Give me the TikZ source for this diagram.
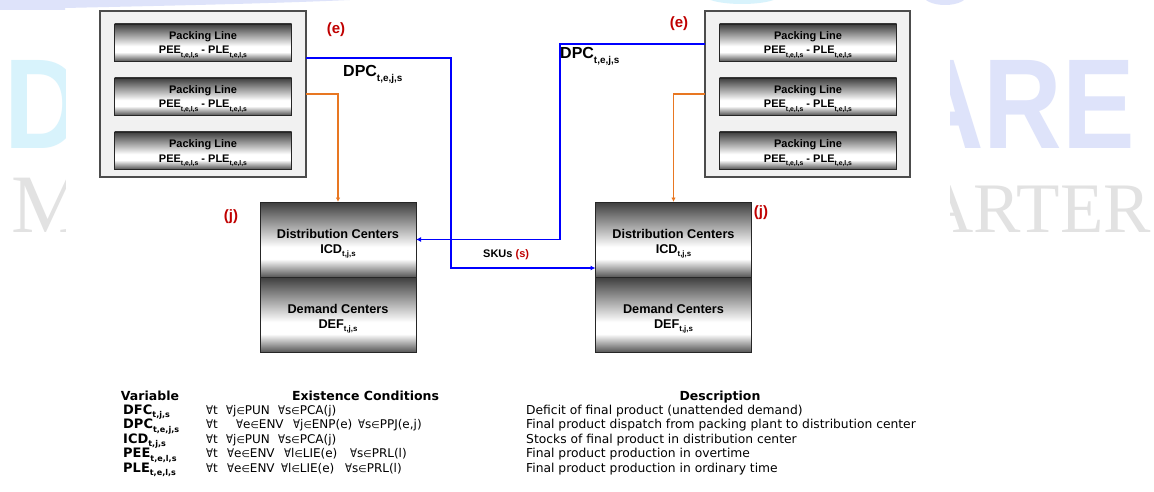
\documentclass[tikz,border=0pt]{standalone}
\usepackage{fontspec}
\setmainfont{DejaVu Sans}
\newfontfamily\headfont{Liberation Sans}
\newfontfamily\serifmark{Liberation Serif}
\usetikzlibrary{arrows.meta,calc}

\definecolor{mtop}{gray}{0.24}
\definecolor{mbot}{gray}{0.34}
\definecolor{panelfill}{gray}{0.945}
\definecolor{panelline}{gray}{0.30}
\definecolor{flowblue}{RGB}{0,0,255}
\definecolor{feedorange}{RGB}{232,119,34}
\definecolor{idxred}{RGB}{192,0,0}
\definecolor{wmcyan}{RGB}{216,243,252}
\definecolor{wmlav}{RGB}{222,227,250}
\definecolor{wmgray}{RGB}{226,226,226}

% metallic look: dark top, bright band below the middle, dark bottom
\pgfdeclareverticalshading{metal}{100bp}{color(0bp)=(mbot); color(25bp)=(mbot); color(37bp)=(white); color(45bp)=(white); color(75bp)=(mtop); color(100bp)=(mtop)}

% lowered, reduced index
\newcommand{\sbs}[1]{\raisebox{-0.28em}{\scalebox{0.62}{#1}}}
% compact quantifier and membership signs
\newcommand{\fa}{\scalebox{0.85}[1]{∀}}
\newcommand{\inn}{\scalebox{0.8}{∈}}
% fixed-width slot of a condition line
\newcommand{\slot}[2]{\makebox[#1pt][l]{#2}}

% one packing line: box plus its two text lines
\newcommand{\packline}[3]{%
  \node[linebox] (#1) at (#2,#3) {};
  \node[pltext] (#1t) at ($(#1.north)+(0,16)$) {Packing Line};
  \node[pltext] (#1v) at ($(#1.north)+(0,30)$) {PEE\sbs{t,e,l,s} - PLE\sbs{t,e,l,s}};}

\begin{document}
\begin{tikzpicture}[x=1pt, y=-1pt,
  panel/.style={draw=panelline, fill=panelfill, line width=1.1pt, inner sep=0pt, outer sep=0pt, minimum height=166pt},
  linebox/.style={draw=black!85, line width=0.8pt, shade, shading=metal, inner sep=0pt, outer sep=0pt, minimum width=177pt, minimum height=37pt},
  cbox/.style={draw=black!85, line width=0.9pt, shade, shading=metal, inner sep=0pt, outer sep=0pt, minimum width=156pt, minimum height=75pt},
  pltext/.style={anchor=base, inner sep=0pt, font=\headfont\bfseries\fontsize{11}{13}\selectfont},
  ctext/.style={anchor=base, inner sep=0pt, font=\headfont\bfseries\fontsize{12.7}{15}\selectfont},
  idx/.style={inner sep=0pt, text=idxred, font=\headfont\bfseries\fontsize{15}{18}\selectfont},
  dpclabel/.style={anchor=base west, inner sep=0pt, font=\headfont\bfseries\fontsize{16}{19}\selectfont},
  flow/.style={draw=flowblue, line width=1.8pt, -{Latex[length=5pt,width=5pt]}},
  feed/.style={draw=feedorange, line width=1.5pt, -{Latex[length=4.5pt,width=4.5pt]}},
  thead/.style={anchor=base, inner sep=0pt, font=\bfseries\fontsize{12.5}{15}\selectfont},
  tvar/.style={anchor=base west, inner sep=0pt, font=\bfseries\fontsize{13}{15}\selectfont},
  tcell/.style={anchor=base west, inner sep=0pt, font=\fontsize{12.3}{15}\selectfont},
  tcond/.style={anchor=base west, inner sep=0pt, font=\fontsize{12}{15}\selectfont},
  wmark/.style={inner sep=0pt, outer sep=0pt}]

\useasboundingbox (0,0) rectangle (1154,492);
\fill[white] (0,0) rectangle (1154,492);

% ---- background lettering at both sides ----
\begin{scope}
  \clip (0,0) rectangle (65,492) (950,0) rectangle (1154,492);
  \node[wmark, anchor=base west, text=wmcyan, font=\headfont\bfseries\fontsize{64}{64}\selectfont] (wmD) at (5,149) {\scalebox{1.7}[2]{D}};
  \node[wmark, anchor=base west, text=wmlav, font=\headfont\bfseries\fontsize{64}{64}\selectfont] (wmARE) at (905,149) {\scalebox{1.7}[2]{ARE}};
  \node[wmark, anchor=base west, text=wmgray, font=\serifmark\fontsize{40}{40}\selectfont] (wmM) at (12,232) {\scalebox{2.075}{M}};
  \node[wmark, anchor=base east, text=wmgray, font=\serifmark\fontsize{36}{36}\selectfont] (wmARTER) at (1151,232) {\scalebox{1.972}{ARTER}};
\end{scope}
\fill[wmlav] (0,0) -- (350,0) .. controls (260,4) and (150,6) .. (65,8) -- (65,10) -- (0,10) -- cycle;
\fill[wmcyan] (742,-5) ellipse [x radius=38pt, y radius=9pt];
\fill[wmlav] (945,-5) ellipse [x radius=22pt, y radius=10pt];

% ---- packing plants ----
\node[panel, minimum width=206pt] (panL) at (203,94) {};
\node[panel, minimum width=205pt] (panR) at (807.5,94) {};
\packline{plL1}{203}{42.5}
\packline{plL2}{203}{96.5}
\packline{plL3}{203}{150.5}
\packline{plR1}{808}{42.5}
\packline{plR2}{808}{96.5}
\packline{plR3}{808}{150.5}

% ---- distribution / demand centers ----
\node[cbox] (dcL) at (338,239.5) {};
\node[cbox] (dmL) at (338,314.5) {};
\node[cbox] (dcR) at (673.5,239.5) {};
\node[cbox] (dmR) at (673.5,314.5) {};
\node[ctext] (dcLt) at ($(dcL.north)+(0,36)$) {Distribution Centers};
\node[ctext] (dcLv) at ($(dcL.north)+(0,51)$) {ICD\sbs{t,j,s}};
\node[ctext] (dmLt) at ($(dmL.north)+(0,36)$) {Demand Centers};
\node[ctext] (dmLv) at ($(dmL.north)+(0,51)$) {DEF\sbs{t,j,s}};
\node[ctext] (dcRt) at ($(dcR.north)+(0,36)$) {Distribution Centers};
\node[ctext] (dcRv) at ($(dcR.north)+(0,51)$) {ICD\sbs{t,j,s}};
\node[ctext] (dmRt) at ($(dmR.north)+(0,36)$) {Demand Centers};
\node[ctext] (dmRv) at ($(dmR.north)+(0,51)$) {DEF\sbs{t,j,s}};

% ---- flows ----
\coordinate (outL) at ($(panL.north east)+(0,47)$);
\coordinate (outR) at ($(panR.north west)+(0,33)$);
\coordinate (inR) at ($(dcR.west)+(0,28.5)$);
\draw[flow] (outL) -- ++(145,0) |- (inR);
\draw[flow] (outR) -- ++(-145,0) |- (dcL.east);
\draw[feed] (panL.east) -| (dcL.north);
\draw[feed] (panR.west) -| (dcR.north);

% ---- labels ----
\node[idx] (eL) at (336,30) {(e)};
\node[idx] (eR) at (679,24) {(e)};
\node[idx] (jL) at (231,217) {(j)};
\node[idx] (jR) at (761,213) {(j)};
\node[dpclabel] (dpcL) at (343,77) {DPC\sbs{t,e,j,s}};
\node[dpclabel] (dpcR) at (560,59) {DPC\sbs{t,e,j,s}};
\node[anchor=base west, inner sep=0pt, font=\headfont\bfseries\fontsize{11}{13}\selectfont] (sku) at (483,257) {SKUs {\color{idxred}(s)}};

% ---- variable table ----
\node[thead] (hVar) at (150,400.5) {Variable};
\node[thead] (hCond) at (365.5,400.5) {Existence Conditions};
\node[thead] (hDesc) at (720,400.5) {Description};

\node[tvar] (v1) at (123,414) {DFC\sbs{t,j,s}};
\node[tvar] (v2) at (123,428.5) {DPC\sbs{t,e,j,s}};
\node[tvar] (v3) at (123,443) {ICD\sbs{t,j,s}};
\node[tvar] (v4) at (123,457.5) {PEE\sbs{t,e,l,s}};
\node[tvar] (v5) at (123,472) {PLE\sbs{t,e,l,s}};

\node[tcond] (c1) at (206,414) {\slot{20}{\fa t}\slot{52}{\fa j\inn PUN}\fa s\inn PCA(j)};
\node[tcond] (c2) at (206,428.5) {\slot{30}{\fa t}\slot{57}{\fa e\inn ENV}\slot{65}{\fa j\inn ENP(e)}\fa s\inn PPJ(e,j)};
\node[tcond] (c3) at (206,443) {\slot{20}{\fa t}\slot{52}{\fa j\inn PUN}\fa s\inn PCA(j)};
\node[tcond] (c4) at (206,457.5) {\slot{21}{\fa t}\slot{57}{\fa e\inn ENV}\slot{66}{\fa l\inn LIE(e)}\fa s\inn PRL(l)};
\node[tcond] (c5) at (206,472) {\slot{21}{\fa t}\slot{54}{\fa e\inn ENV}\slot{64}{\fa l\inn LIE(e)}\fa s\inn PRL(l)};

\node[tcell] (d1) at (526,414) {Deficit of final product (unattended demand)};
\node[tcell] (d2) at (526,428.5) {Final product dispatch from packing plant to distribution center};
\node[tcell] (d3) at (526,443) {Stocks of final product in distribution center};
\node[tcell] (d4) at (526,457.5) {Final product production in overtime};
\node[tcell] (d5) at (526,472) {Final product production in ordinary time};
\end{tikzpicture}
\end{document}
